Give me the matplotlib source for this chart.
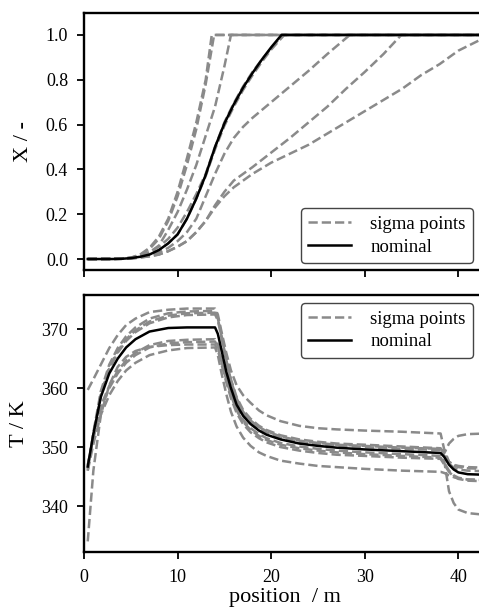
import matplotlib
matplotlib.use("Agg")
import matplotlib.pyplot as plt
from matplotlib.lines import Line2D

plt.rcParams['font.family'] = ['Liberation Serif', 'DejaVu Serif']
plt.rcParams['font.size'] = 13

# ---------------- conversion profile X along the reactor ----------------
x_nom_pos = [0.4, 3, 4, 5, 6, 7, 8, 9, 10, 11, 12, 13, 14, 15, 16, 17, 18, 19, 20, 21.1, 42.9]
x_nom_val = [0, 0, 0.001, 0.004, 0.01, 0.02, 0.04, 0.07, 0.11, 0.18, 0.27, 0.375, 0.50, 0.605,
             0.69, 0.765, 0.83, 0.89, 0.945, 1.0, 1.0]

x_sig_pos = [
    [0.4, 4, 5, 6, 7, 8, 9, 10, 11, 12, 13, 13.65, 42.9],
    [0.4, 4, 5, 6, 7, 8, 9, 10, 11, 12, 13, 13.9, 42.9],
    [0.4, 4, 6, 7, 8, 9, 10, 11, 12, 13, 14, 15, 15.7, 42.9],
    [0.4, 3, 4, 5, 6, 7, 8, 9, 10, 11, 12, 13, 14, 15, 16, 17, 18, 19, 20, 21.4, 42.9],
    [0.4, 3, 4, 5, 6, 7, 8, 9, 10, 11, 12, 13, 14, 15, 16, 17, 18, 19, 20, 21.2, 42.9],
    [0.4, 4, 6, 8, 9, 10, 11, 12, 13, 14, 15, 16, 17, 18, 20, 22, 24, 26, 28.4, 42.9],
    [0.4, 5, 7, 8, 9, 10, 11, 12, 13, 14, 15, 16, 18, 20, 22, 24, 26, 28, 30, 32, 33.9, 42.9],
    [0.4, 5, 7, 8, 9, 10, 11, 12, 13, 14, 15, 16, 18, 20, 22, 24, 26, 28, 30, 32, 34, 36, 38,
     40, 42.9],
]
x_sig_val = [
    [0, 0.001, 0.006, 0.02, 0.05, 0.10, 0.18, 0.30, 0.45, 0.61, 0.80, 1.0, 1.0],
    [0, 0.001, 0.005, 0.018, 0.045, 0.09, 0.17, 0.28, 0.42, 0.58, 0.78, 1.0, 1.0],
    [0, 0.001, 0.01, 0.03, 0.06, 0.13, 0.21, 0.31, 0.42, 0.55, 0.68, 0.86, 1.0, 1.0],
    [0, 0, 0.001, 0.004, 0.01, 0.02, 0.04, 0.07, 0.11, 0.18, 0.27, 0.37, 0.49, 0.595,
     0.68, 0.755, 0.82, 0.88, 0.935, 1.0, 1.0],
    [0, 0, 0.002, 0.006, 0.015, 0.03, 0.055, 0.09, 0.14, 0.21, 0.29, 0.38, 0.50, 0.61,
     0.695, 0.77, 0.835, 0.89, 0.94, 1.0, 1.0],
    [0, 0.001, 0.008, 0.03, 0.05, 0.08, 0.12, 0.18, 0.28, 0.38, 0.47, 0.54, 0.59, 0.63,
     0.70, 0.77, 0.84, 0.915, 1.0, 1.0],
    [0, 0.002, 0.012, 0.02, 0.035, 0.055, 0.08, 0.12, 0.17, 0.24, 0.30, 0.35, 0.41, 0.475,
     0.54, 0.61, 0.68, 0.76, 0.835, 0.915, 1.0, 1.0],
    [0, 0.002, 0.012, 0.02, 0.035, 0.055, 0.08, 0.12, 0.17, 0.23, 0.28, 0.32, 0.38, 0.43,
     0.47, 0.51, 0.56, 0.61, 0.66, 0.71, 0.76, 0.82, 0.87, 0.93, 0.99],
]

# ---------------- temperature profile T along the reactor ----------------
t_pos = [0.4, 1.0, 1.8, 2.7, 3.6, 4.5, 5.5, 7.0, 9.0, 11.0, 14.0, 14.3, 14.7, 15.2, 15.7,
         16.3, 17.0, 17.8, 18.7, 19.5, 21.0, 23.0, 25.0, 27.0, 30.0, 34.0, 38.1, 38.5, 39.0,
         39.5, 40.0, 41.0, 42.9]

t_nom = [346.7, 352.2, 358.5, 362.5, 365.0, 366.9, 368.3, 369.6, 370.2, 370.3, 370.3, 369.2,
         366.4, 362.8, 360.0, 357.2, 355.3, 353.9, 352.8, 352.1, 351.3, 350.6, 350.2, 349.9,
         349.6, 349.3, 349.0, 348.3, 347.0, 346.2, 345.7, 345.4, 345.3]

t_sig = [
    [359.7, 361.5, 364.0, 366.8, 369.0, 370.7, 371.8, 372.9, 373.3, 373.5, 373.5, 372.5,
     369.5, 366.0, 363.0, 360.5, 358.8, 357.5, 356.2, 355.4, 354.4, 353.6, 353.2, 353.0,
     352.8, 352.6, 352.3, 349.5, 347.5, 347.0, 346.8, 346.6, 346.5],
    [346.0, 352.5, 359.5, 364.0, 366.8, 368.8, 370.3, 371.8, 372.7, 373.0, 373.1, 372.0,
     369.0, 365.0, 361.5, 358.5, 356.3, 354.8, 353.6, 352.9, 352.0, 351.3, 350.9, 350.6,
     350.4, 350.1, 349.8, 348.8, 347.5, 346.9, 346.6, 346.4, 346.3],
    [346.5, 352.0, 358.8, 363.3, 366.0, 368.0, 369.5, 371.0, 372.0, 372.4, 372.5, 371.5,
     368.5, 364.5, 361.0, 358.0, 355.8, 354.3, 353.2, 352.5, 351.6, 350.9, 350.5, 350.3,
     350.0, 349.7, 349.5, 348.5, 347.2, 346.5, 346.2, 346.0, 345.9],
    [346.3, 352.2, 359.0, 363.6, 366.3, 368.3, 369.8, 371.3, 372.3, 372.7, 372.8, 371.8,
     368.8, 364.8, 361.3, 358.3, 356.0, 354.5, 353.4, 352.7, 351.8, 351.1, 350.7, 350.4,
     350.2, 349.9, 349.7, 349.0, 350.6, 351.4, 351.9, 352.2, 352.3],
    [347.0, 351.5, 356.5, 360.0, 362.5, 364.3, 365.6, 366.9, 367.6, 367.8, 367.9, 367.0,
     364.5, 361.5, 358.8, 356.2, 354.3, 352.9, 351.9, 351.2, 350.4, 349.8, 349.4, 349.1,
     348.8, 348.5, 348.2, 347.3, 346.0, 345.2, 344.8, 344.5, 344.4],
    [334.0, 346.0, 355.5, 360.5, 363.6, 365.3, 366.3, 367.0, 367.3, 367.4, 367.4, 366.5,
     364.0, 361.0, 358.3, 355.8, 353.9, 352.5, 351.5, 350.8, 350.0, 349.4, 349.0, 348.7,
     348.5, 348.2, 348.0, 347.0, 345.8, 345.0, 344.6, 344.3, 344.2],
    [346.0, 350.5, 355.5, 358.8, 361.2, 363.0, 364.3, 365.6, 366.4, 366.8, 366.9, 365.6,
     362.5, 359.0, 356.0, 353.5, 351.6, 350.2, 349.1, 348.5, 347.7, 347.2, 346.8, 346.6,
     346.3, 346.0, 345.8, 345.6, 345.2, 344.9, 344.7, 344.5, 344.4],
    [346.8, 351.8, 357.0, 360.4, 362.9, 364.7, 366.0, 367.3, 368.0, 368.2, 368.3, 367.4,
     364.8, 361.8, 359.0, 356.5, 354.6, 353.2, 352.2, 351.5, 350.7, 350.1, 349.7, 349.4,
     349.1, 348.8, 348.5, 347.5, 342.5, 340.5, 339.4, 338.8, 338.5],
]

x_ticks = [0, 10, 20, 30, 40]
x_tick_labels = ['0', '10', '20', '30', '40']
top_yticks = [0.0, 0.2, 0.4, 0.6, 0.8, 1.0]
bot_yticks = [340, 350, 360, 370]

SIG_COLOR = '#8a8a8a'
LW = 1.8

W, H = 479, 609
fig = plt.figure(figsize=(W / 100, H / 100), dpi=100)

ax_x = fig.add_axes([84 / W, (H - 270) / H, (486 - 84) / W, 257 / H])
ax_t = fig.add_axes([84 / W, (H - 552) / H, (486 - 84) / W, 257 / H])

for p, v in zip(x_sig_pos, x_sig_val):
    ax_x.plot(p, v, color=SIG_COLOR, lw=LW, ls='--')
ax_x.plot(x_nom_pos, x_nom_val, color='black', lw=LW)

for v in t_sig:
    ax_t.plot(t_pos, v, color=SIG_COLOR, lw=LW, ls='--')
ax_t.plot(t_pos, t_nom, color='black', lw=LW)

ax_x.set_xlim(0, 42.95)
ax_t.set_xlim(0, 42.95)
ax_x.set_ylim(-0.049, 1.098)
ax_t.set_ylim(332.2, 375.8)

for ax in (ax_x, ax_t):
    for s in ax.spines.values():
        s.set_linewidth(1.7)
        s.set_color('black')
    ax.tick_params(direction='out', length=5, width=1.3, labelsize=13)
    ax.tick_params(axis='y', pad=6.5)
    ax.tick_params(axis='x', pad=7)
    ax.set_xticks(x_ticks)

ax_x.set_xticklabels([])
ax_t.set_xticklabels(x_tick_labels)
ax_x.set_yticks(top_yticks)
ax_x.set_yticklabels(['%.1f' % v for v in top_yticks])
ax_t.set_yticks(bot_yticks)

ax_x.set_ylabel('X / -', fontsize=16, labelpad=9)
ax_t.set_ylabel('T / K', fontsize=16, labelpad=9)
ax_t.set_xlabel('position  / m', fontsize=16, labelpad=2)

handles = [Line2D([], [], color=SIG_COLOR, lw=LW, ls='--'),
           Line2D([], [], color='black', lw=LW)]
labels = ['sigma points', 'nominal']

leg_kw = dict(fontsize=13.5, handlelength=2.3, handletextpad=1.0, borderpad=0.4,
              labelspacing=0.3, fancybox=True, framealpha=1.0, edgecolor='#444444',
              borderaxespad=0.0, bbox_transform=fig.transFigure)
lg1 = ax_x.legend(handles, labels, loc='lower right',
                  bbox_to_anchor=(473 / W, (H - 263) / H), **leg_kw)
lg2 = ax_t.legend(handles, labels, loc='upper right',
                  bbox_to_anchor=(473 / W, (H - 303) / H), **leg_kw)
for lg in (lg1, lg2):
    lg.get_frame().set_linewidth(1.0)

fig.savefig('out.png', dpi=100)
